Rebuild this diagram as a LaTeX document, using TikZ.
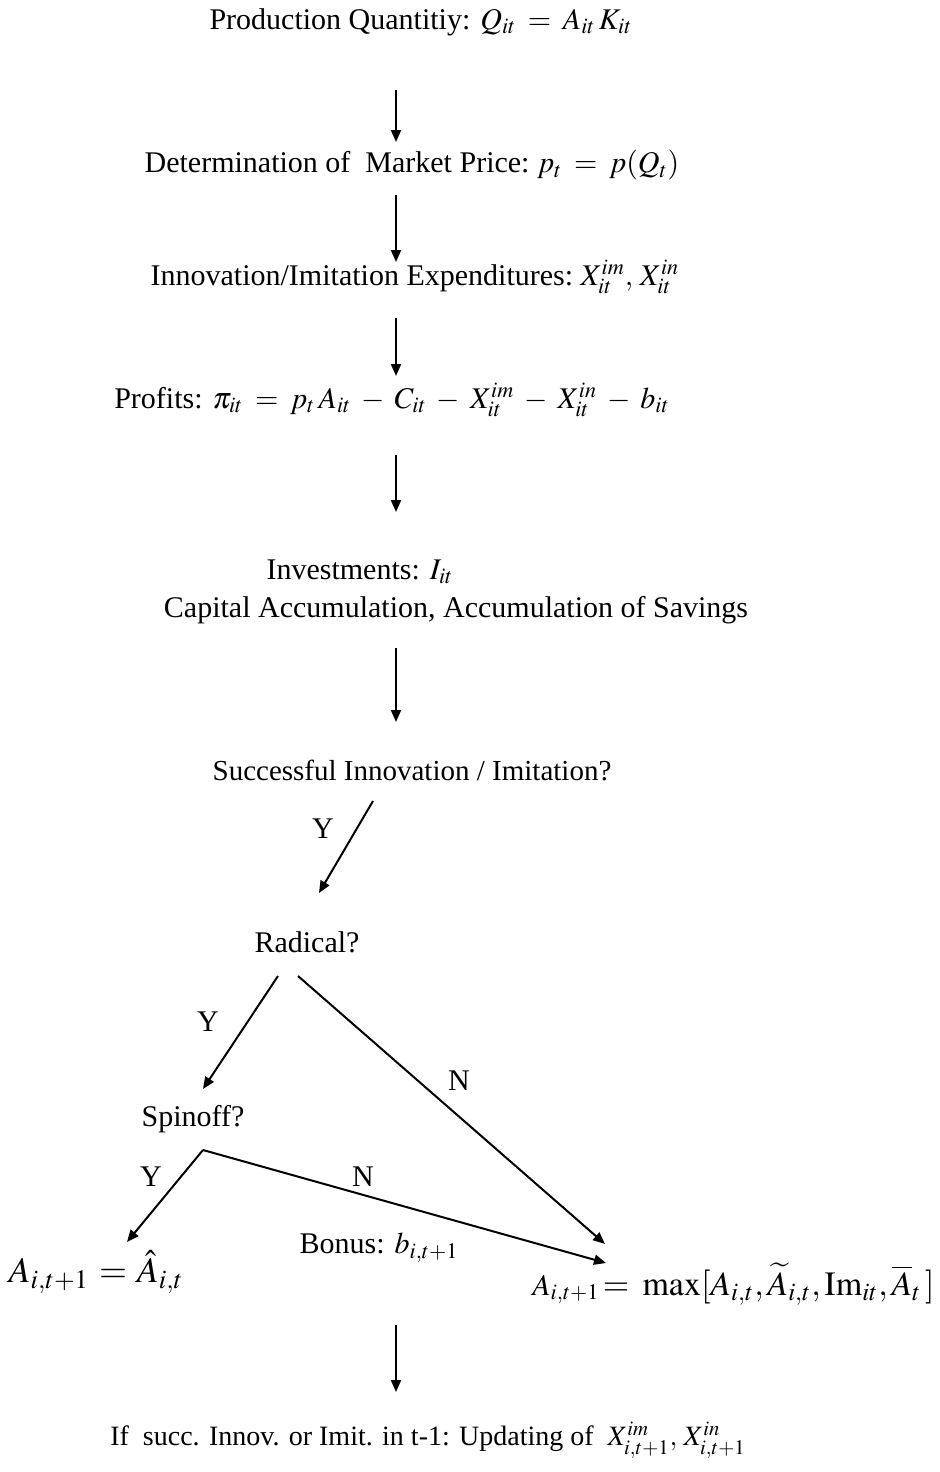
\documentclass[tikz,border=0pt]{standalone}
\usepackage{mathptmx}
\usepackage{fontspec}
\setmainfont{Liberation Serif}
\usetikzlibrary{arrows.meta}
\medmuskip=6mu plus 2mu minus 2mu
\thickmuskip=7mu plus 3mu minus 1mu
\tikzset{
  step text/.style={inner sep=0pt, font=\fontsize{15}{18}\selectfont},
  big math/.style={inner sep=0pt, font=\fontsize{18}{22}\selectfont},
  flow/.style={-{Triangle[length=6pt,width=5pt]}, line width=1pt},
  answer/.style={inner sep=0pt, font=\fontsize{15}{18}\selectfont}
}

\begin{document}
\begin{tikzpicture}[x=0.5pt, y=-0.5pt, line cap=butt, line join=miter]

  % Frame
  \useasboundingbox (0,0) rectangle (939,1472);

  % Main chain of steps
  \node[step text] (prod)    at (421,22)  {Production Quantitiy: $Q_{it}=A_{it}\,K_{it}$};
  \node[step text] (price)   at (412,165) {Determination of\ \ Market Price:\ $p_t=p(Q_t)$};
  \node[step text] (expend)  at (415,277) {Innovation/Imitation Expenditures:\ $X_{it}^{im},\,X_{it}^{in}$};
  \node[step text] (profit)  at (392,400) {Profits: $\pi_{it}=p_t\,A_{it}-C_{it}-X_{it}^{im}-X_{it}^{in}-b_{it}$};
  \node[step text] (invest)  at (360,572) {Investments: $I_{it}$};
  \node[step text] (capital) at (456,610) {Capital Accumulation, Accumulation of Savings};
  \node[step text, font=\fontsize{14.5}{18}\selectfont] (success) at (412,770) {Successful Innovation / Imitation?};

  % Decisions
  \node[step text] (radical) at (307,942)  {Radical?};
  \node[step text] (spinoff) at (193,1119) {Spinoff?};
  \node[step text] (bonus)   at (379,1248) {Bonus: $b_{i,t+1}$};

  % Outcomes
  \node[big math] (ahat) at (96,1272) {\thickmuskip=5mu\relax$A_{i,t+1}=\hat{A}_{i,t}$};
  \node[inner sep=0pt, anchor=west] (amax) at (532,1284)
    {{\fontsize{15}{20}\selectfont$A_{i,t+1}$}\,{\fontsize{17}{21}\selectfont$=\max[A_{i,t},\widetilde{A}_{i,t},\mathrm{Im}_{it},\overline{A}_t\,]$}};
  \node[step text, font=\fontsize{14}{18}\selectfont] (update) at (428,1440) {If\ \ succ. Innov. or Imit. in t-1: Updating of\ \ $X_{i,t+1}^{im},\,X_{i,t+1}^{in}$};

  % Arrow ends
  \coordinate (prod-s)   at (396,90);
  \coordinate (price-n)  at (396,142);
  \coordinate (price-s)  at (396,195);
  \coordinate (expend-n) at (396,262);
  \coordinate (expend-s) at (396,318);
  \coordinate (profit-n) at (396,376);
  \coordinate (profit-s) at (396,455);
  \coordinate (invest-n) at (396,512);
  \coordinate (capital-s) at (396,648);
  \coordinate (success-n) at (396,722);
  \coordinate (success-s) at (373,801);
  \coordinate (radical-n) at (319,893);
  \coordinate (radical-sw) at (278,976);
  \coordinate (radical-se) at (298,976);
  \coordinate (spinoff-n) at (203,1089);
  \coordinate (spinoff-s) at (203,1150);
  \coordinate (ahat-n) at (127,1242);
  \coordinate (amax-nw) at (605,1244);
  \coordinate (amax-w) at (606,1263);
  \coordinate (amax-s) at (396,1325);
  \coordinate (update-n) at (396,1392);

  % Vertical flow
  \draw[flow] (prod-s) -- (price-n);
  \draw[flow] (price-s) -- (expend-n);
  \draw[flow] (expend-s) -- (profit-n);
  \draw[flow] (profit-s) -- (invest-n);
  \draw[flow] (capital-s) -- (success-n);
  \draw[flow] (amax-s) -- (update-n);

  % Branches
  \draw[flow] (success-s) -- (radical-n);
  \draw[flow] (radical-sw) -- (spinoff-n);
  \draw[flow] (radical-se) -- (amax-nw);
  \draw[flow] (spinoff-s) -- (ahat-n);
  \draw[flow] (spinoff-s) -- (amax-w);

  % Branch labels
  \node[answer] (y1) at (323,829)  {Y};
  \node[answer] (y2) at (208,1022) {Y};
  \node[answer] (n1) at (459,1081) {N};
  \node[answer] (y3) at (151,1177) {Y};
  \node[answer] (n2) at (363,1177) {N};

\end{tikzpicture}
\end{document}
